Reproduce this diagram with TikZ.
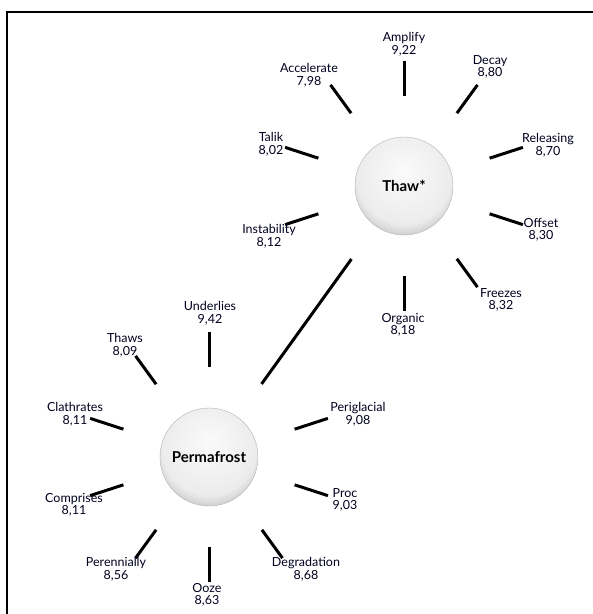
\documentclass[tikz,border=0pt]{standalone}
\usepackage{fontspec}
\setmainfont{Lato}
\usetikzlibrary{calc}

\pgfdeclareradialshading{button}{\pgfpoint{0bp}{9bp}}{%
  color(0bp)=(gray!4); color(14bp)=(gray!10); color(24bp)=(gray!15);
  color(27bp)=(gray!28); color(31bp)=(gray!50); color(34bp)=(gray!62);
  color(50bp)=(gray!62)}

\tikzset{
  hub/.style={circle, minimum size=98pt, inner sep=0pt, shading=button,
    draw=gray!60, line width=0.4pt, font=\fontsize{15}{16}\bfseries\selectfont},
  word/.style={align=center, inner sep=0pt, text=black!88!blue,
    font=\fontsize{12.5}{12.5}\selectfont},
  spoke/.style={line width=3pt}
}

\begin{document}
\begin{tikzpicture}[x=1pt, y=-1pt]

\useasboundingbox (0,0) rectangle (593,614);
\draw [line width=2pt] (7,614) -- (7,12) -- (594,12);

\node [hub] (thaw) at (404,186) {Thaw*};
\node [hub] (perma) at (209,457) {Permafrost};

% spokes round each hub
\foreach \a in {90,54,18,-18,-54,-90,198,162,126}
    \draw [spoke] (thaw) ++(\a:90pt) -- ++(\a:35pt);

\foreach \a in {90,18,-18,-54,-90,234,198,162,126}
    \draw [spoke] (perma) ++(\a:90pt) -- ++(\a:35pt);

\draw [spoke] ($(thaw)!90pt!(perma)$) -- ($(perma)!90pt!(thaw)$);

% words of Thaw*
\node [word] (amplify) at (404,44) {Amplify\\9,22};
\node [word] (decay) at (490,67) {Decay\\8,80};
\node [word] (releasing) at (548,145) {Releasing\\8,70};
\node [word] (offset) at (541,230) {Offset\\8,30};
\node [word] (freezes) at (501,300) {Freezes\\8,32};
\node [word] (organic) at (403,325) {Organic\\8,18};
\node [word] (instability) at (269,236) {Instability\\8,12};
\node [word] (talik) at (271,144) {Talik\\8,02};
\node [word] (accelerate) at (309,75) {Accelerate\\7,98};

% words of Permafrost
\node [word] (underlies) at (210,313) {Underlies\\9,42};
\node [word] (thaws) at (125,345) {Thaws\\8,09};
\node [word] (clathrates) at (75,414) {Clathrates\\8,11};
\node [word] (periglacial) at (358,414) {Periglacial\\9,08};
\node [word] (comprises) at (74,505) {Comprises\\8,11};
\node [word] (proc) at (345,500) {Proc\\9,03};
\node [word] (perennially) at (116,569) {Perennially\\8,56};
\node [word] (ooze) at (207,595) {Ooze\\8,63};
\node [word] (degradation) at (306,569) {Degradation\\8,68};

\end{tikzpicture}
\end{document}
